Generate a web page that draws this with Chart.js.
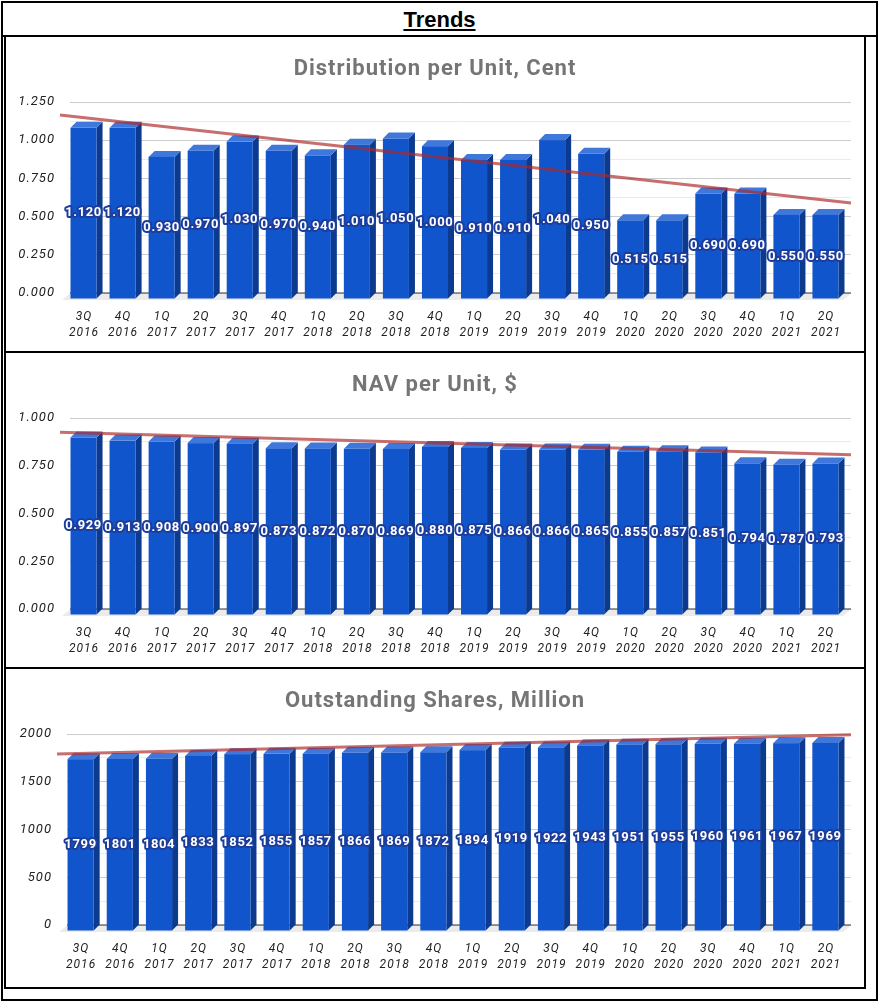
<!DOCTYPE html>
<html>
<head>
<meta charset="utf-8">
<script src="https://cdn.jsdelivr.net/npm/chart.js@4.4.1/dist/chart.umd.min.js"></script>
<style>
  html, body { margin: 0; padding: 0; background: #fff; }
  #page { position: relative; width: 882px; height: 1006px; }
  .line { position: absolute; background: #000; }
  #trends { position: absolute; left: 2px; width: 875px; top: 7px; text-align: center;
    font: bold 22px "Liberation Sans", Arial, sans-serif; text-decoration: underline; color: #000; }
  canvas { position: absolute; }
</style>
</head>
<body>
<div id="page">
  <div class="line" style="left:1px;top:1px;width:877px;height:2px"></div>
  <div class="line" style="left:1px;top:1px;width:2px;height:1000px"></div>
  <div class="line" style="left:876px;top:1px;width:2px;height:1000px"></div>
  <div class="line" style="left:1px;top:999px;width:877px;height:2px"></div>
  <div class="line" style="left:1px;top:35px;width:877px;height:1.5px"></div>
  <div class="line" style="left:4px;top:35px;width:1.5px;height:954px"></div>
  <div class="line" style="left:864px;top:35px;width:1.5px;height:954px"></div>
  <div class="line" style="left:4px;top:987px;width:862px;height:1.5px"></div>
  <div class="line" style="left:4px;top:351px;width:862px;height:1.5px"></div>
  <div class="line" style="left:4px;top:667px;width:862px;height:1.5px"></div>
  <div id="trends">Trends</div>
  <canvas id="c1" style="left:5px;top:37px"></canvas>
  <canvas id="c2" style="left:5px;top:353px"></canvas>
  <canvas id="c3" style="left:5px;top:669px"></canvas>
</div>
<script>
const quarters = ['3Q','4Q','1Q','2Q','3Q','4Q','1Q','2Q','3Q','4Q','1Q','2Q','3Q','4Q','1Q','2Q','3Q','4Q','1Q','2Q']
const years = ['2016','2016','2017','2017','2017','2017','2018','2018','2018','2018','2019','2019','2019','2019','2020','2020','2020','2020','2021','2021']

const distribution = [1.120,1.120,0.930,0.970,1.030,0.970,0.940,1.010,1.050,1.000,0.910,0.910,1.040,0.950,0.515,0.515,0.690,0.690,0.550,0.550]
const navPerUnit = [0.929,0.913,0.908,0.900,0.897,0.873,0.872,0.870,0.869,0.880,0.875,0.866,0.866,0.865,0.855,0.857,0.851,0.794,0.787,0.793]
const sharesOut = [1799,1801,1804,1833,1852,1855,1857,1866,1869,1872,1894,1919,1922,1943,1951,1955,1960,1961,1967,1969]

const labels = quarters.map((q, i) => [q, years[i]])

const DEPTH = 6
const FRONT = '#1155cc', SIDE = '#0b3a8e', TOP = '#3f78da'

// 3d look, trendline and labels
const bars3d = {
  id: 'bars3d',
  beforeUpdate(chart) { chart.ctx.letterSpacing = '1px' },
  beforeDraw(chart) { chart.ctx.letterSpacing = '1px' },
  beforeDatasetsDraw(chart) {
    const a = chart.chartArea, ctx = chart.ctx
    ctx.save()
    ctx.fillStyle = '#ebebeb'
    ctx.beginPath()
    ctx.moveTo(a.left, a.bottom + 0.5)
    ctx.lineTo(a.right, a.bottom + 0.5)
    ctx.lineTo(a.right - 8, a.bottom + 7)
    ctx.lineTo(a.left - 8, a.bottom + 7)
    ctx.closePath()
    ctx.fill()
    ctx.strokeStyle = '#333'
    ctx.lineWidth = 1
    ctx.beginPath()
    ctx.moveTo(a.left, a.bottom)
    ctx.lineTo(a.right, a.bottom)
    ctx.stroke()
    ctx.restore()
  },
  afterDatasetsDraw(chart, args, opts) {
    const ctx = chart.ctx
    const meta = chart.getDatasetMeta(0)
    const vals = chart.data.datasets[0].data
    ctx.save()
    meta.data.forEach(el => {
      const w = el.width, l = el.x - w / 2, r = el.x + w / 2
      const fl = l - DEPTH, fr = r - DEPTH, ft = el.y + DEPTH, fb = el.base + DEPTH
      ctx.fillStyle = SIDE
      ctx.beginPath()
      ctx.moveTo(fr, ft); ctx.lineTo(r, el.y); ctx.lineTo(r, el.base); ctx.lineTo(fr, fb)
      ctx.closePath(); ctx.fill()
      ctx.fillStyle = TOP
      ctx.beginPath()
      ctx.moveTo(fl, ft); ctx.lineTo(l, el.y); ctx.lineTo(r, el.y); ctx.lineTo(fr, ft)
      ctx.closePath(); ctx.fill()
      ctx.fillStyle = FRONT
      ctx.fillRect(fl, ft, w, fb - ft)
    })

    // linear trendline
    const n = vals.length
    let sx = 0, sy = 0
    vals.forEach((v, i) => { sx += i; sy += v })
    const mx = sx / n, my = sy / n
    let num = 0, den = 0
    vals.forEach((v, i) => { num += (i - mx) * (v - my); den += (i - mx) * (i - mx) })
    const slope = num / den, icpt = my - slope * mx
    const xs = chart.scales.x, ys = chart.scales.y
    const p0 = xs.getPixelForValue(0), step = xs.getPixelForValue(1) - p0
    const a = chart.chartArea
    const x1 = a.left - 10, x2 = a.right
    const yAt = px => ys.getPixelForValue(icpt + slope * (px - p0) / step)
    ctx.strokeStyle = 'rgba(172,42,42,0.68)'
    ctx.lineWidth = 3
    ctx.beginPath()
    ctx.moveTo(x1, yAt(x1))
    ctx.lineTo(x2, yAt(x2))
    ctx.stroke()

    // value labels
    ctx.font = 'bold 13px Roboto'
    ctx.letterSpacing = '0.6px'
    ctx.textAlign = 'center'
    ctx.textBaseline = 'middle'
    ctx.lineJoin = 'round'
    meta.data.forEach((el, i) => {
      const txt = opts.fmt(vals[i])
      const cx = el.x - DEPTH, cy = (el.y + el.base) / 2 + DEPTH
      ctx.strokeStyle = '#1b3d9c'
      ctx.lineWidth = 4
      ctx.strokeText(txt, cx, cy)
      ctx.fillStyle = '#fff'
      ctx.fillText(txt, cx, cy)
    })
    ctx.restore()
  }
}

function makeChart(id, height, title, values, yMax, yStep, axisW, fmtTick, fmtLabel) {
  const cv = document.getElementById(id)
  cv.width = 860
  cv.height = height
  cv.style.width = '860px'
  cv.style.height = height + 'px'
  return new Chart(cv, {
    type: 'bar',
    data: {
      labels: labels,
      datasets: [{
        data: values,
        backgroundColor: 'rgba(0,0,0,0)',
        barPercentage: 0.667,
        categoryPercentage: 1
      }]
    },
    options: {
      responsive: false,
      animation: false,
      devicePixelRatio: 1,
      layout: { padding: { left: 14, right: 14, top: 0, bottom: 0 } },
      plugins: {
        legend: { display: false },
        tooltip: { enabled: false },
        title: {
          display: true,
          text: title,
          color: '#757575',
          font: { family: 'Roboto', size: 22, weight: 'bold' },
          padding: { top: 19, bottom: 19.6 }
        },
        bars3d: { fmt: fmtLabel }
      },
      scales: {
        x: {
          grid: { display: false, drawTicks: false },
          border: { display: false },
          ticks: {
            autoSkip: false, maxRotation: 0, labelOffset: -DEPTH + 0.5, padding: 16,
            color: '#222',
            font: { family: 'Roboto', size: 12, style: 'italic', lineHeight: 1.35 }
          },
          afterFit(s) { s.height = height - 256 }
        },
        y: {
          min: 0,
          max: yMax,
          border: { display: false },
          grid: {
            drawTicks: false,
            color: c => c.index % 2 === 0 ? '#cccccc' : '#ebebeb'
          },
          ticks: {
            stepSize: yStep,
            padding: 15,
            color: '#222',
            font: { family: 'Roboto', size: 13, style: 'italic' },
            callback: (v, i) => i % 2 === 0 ? fmtTick(v) : ''
          },
          afterFit(s) { s.width = axisW }
        }
      }
    },
    plugins: [bars3d]
  })
}

const fix3 = v => Number(v).toFixed(3)
const int0 = v => String(Math.round(v))

makeChart('c1', 314, 'Distribution per Unit, Cent', distribution, 1.25, 0.125, 51, fix3, fix3)
makeChart('c2', 314, 'NAV per Unit, $', navPerUnit, 1.0, 0.125, 51, fix3, fix3)
makeChart('c3', 318, 'Outstanding Shares, Million', sharesOut, 2000, 250, 48, int0, int0)
</script>
</body>
</html>
